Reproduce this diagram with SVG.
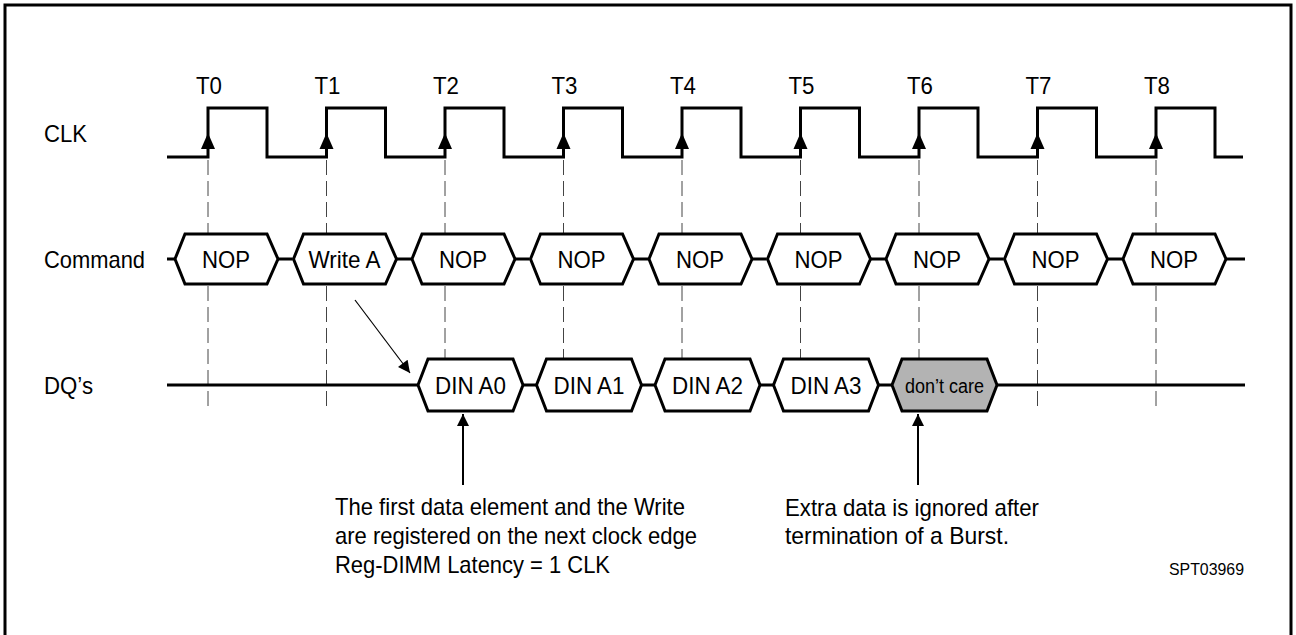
<svg xmlns="http://www.w3.org/2000/svg" width="1296" height="635" viewBox="0 0 1296 635">
<style>
text{font-family:"Liberation Sans",Arial,sans-serif;fill:#000;font-size:24px}
.tl{text-anchor:middle}
.hx{text-anchor:middle}
.sig{fill:none;stroke:#000;stroke-width:3}
.hex{fill:#fff;stroke:#000;stroke-width:3;stroke-linejoin:miter}
.dc{fill:#b3b3b3;stroke:#000;stroke-width:3}
.dash{stroke:#444;stroke-width:1;stroke-dasharray:15 6}
.ln{stroke:#000;stroke-width:1.2}
.vl{stroke:#000;stroke-width:2}
</style>
<defs>
<marker id="ah" viewBox="0 0 10 10" refX="10" refY="5" markerWidth="16" markerHeight="12" markerUnits="userSpaceOnUse" orient="auto"><path d="M0,0 L10,5 L0,10 Z" fill="#000"/></marker>
</defs>
<rect x="5" y="5" width="1286" height="645" fill="none" stroke="#000" stroke-width="3"/>

<g id="labels">
<text x="44" y="142" textLength="43" lengthAdjust="spacingAndGlyphs">CLK</text>
<text x="44" y="268" textLength="101" lengthAdjust="spacingAndGlyphs">Command</text>
<text x="44" y="394" textLength="49" lengthAdjust="spacingAndGlyphs">DQ’s</text>
<text class="tl" x="209" y="94" textLength="26" lengthAdjust="spacingAndGlyphs">T0</text>
<text class="tl" x="327.5" y="94" textLength="26" lengthAdjust="spacingAndGlyphs">T1</text>
<text class="tl" x="446" y="94" textLength="26" lengthAdjust="spacingAndGlyphs">T2</text>
<text class="tl" x="564.5" y="94" textLength="26" lengthAdjust="spacingAndGlyphs">T3</text>
<text class="tl" x="683" y="94" textLength="26" lengthAdjust="spacingAndGlyphs">T4</text>
<text class="tl" x="801.5" y="94" textLength="26" lengthAdjust="spacingAndGlyphs">T5</text>
<text class="tl" x="920" y="94" textLength="26" lengthAdjust="spacingAndGlyphs">T6</text>
<text class="tl" x="1038.5" y="94" textLength="26" lengthAdjust="spacingAndGlyphs">T7</text>
<text class="tl" x="1157" y="94" textLength="26" lengthAdjust="spacingAndGlyphs">T8</text>
</g>

<g id="gridlines">
<line class="dash" x1="208" y1="160" x2="208" y2="412"/>
<line class="dash" x1="326.5" y1="160" x2="326.5" y2="412"/>
<line class="dash" x1="445" y1="160" x2="445" y2="412"/>
<line class="dash" x1="563.5" y1="160" x2="563.5" y2="412"/>
<line class="dash" x1="682" y1="160" x2="682" y2="412"/>
<line class="dash" x1="800.5" y1="160" x2="800.5" y2="412"/>
<line class="dash" x1="919" y1="160" x2="919" y2="412"/>
<line class="dash" x1="1037.5" y1="160" x2="1037.5" y2="412"/>
<line class="dash" x1="1156" y1="160" x2="1156" y2="412"/>
</g>

<g id="clk">
<path class="sig" d="M167,157 H208 V108 H267 V157 H326.5 V108 H385.5 V157 H445 V108 H504 V157 H563.5 V108 H622.5 V157 H682 V108 H741 V157 H800.5 V108 H859.5 V157 H919 V108 H978 V157 H1037.5 V108 H1096.5 V157 H1156 V108 H1215 V157 H1243"/>
<polygon points="208,133 201,149 215,149"/>
<polygon points="326.5,133 319.5,149 333.5,149"/>
<polygon points="445,133 438,149 452,149"/>
<polygon points="563.5,133 556.5,149 570.5,149"/>
<polygon points="682,133 675,149 689,149"/>
<polygon points="800.5,133 793.5,149 807.5,149"/>
<polygon points="919,133 912,149 926,149"/>
<polygon points="1037.5,133 1030.5,149 1044.5,149"/>
<polygon points="1156,133 1149,149 1163,149"/>
</g>

<g id="command">
<path class="sig" d="M167,259 H175 M278,259 H292.5 M396.5,259 H411 M515,259 H529.5 M633.5,259 H648 M752,259 H766.5 M870.5,259 H885 M989,259 H1003.5 M1107.5,259 H1122 M1226,259 H1245"/>
<g id="cmd0"><polygon class="hex" points="175,259 185,234 267,234 278,259 267,284 185,284"/><text class="hx" x="226" y="268" textLength="48" lengthAdjust="spacingAndGlyphs">NOP</text></g>
<g id="cmd1"><polygon class="hex" points="293.5,259 303.5,234 385.5,234 396.5,259 385.5,284 303.5,284"/><text class="hx" x="344.5" y="268" textLength="72" lengthAdjust="spacingAndGlyphs">Write A</text></g>
<g id="cmd2"><polygon class="hex" points="412,259 422,234 504,234 515,259 504,284 422,284"/><text class="hx" x="463" y="268" textLength="48" lengthAdjust="spacingAndGlyphs">NOP</text></g>
<g id="cmd3"><polygon class="hex" points="530.5,259 540.5,234 622.5,234 633.5,259 622.5,284 540.5,284"/><text class="hx" x="581.5" y="268" textLength="48" lengthAdjust="spacingAndGlyphs">NOP</text></g>
<g id="cmd4"><polygon class="hex" points="649,259 659,234 741,234 752,259 741,284 659,284"/><text class="hx" x="700" y="268" textLength="48" lengthAdjust="spacingAndGlyphs">NOP</text></g>
<g id="cmd5"><polygon class="hex" points="767.5,259 777.5,234 859.5,234 870.5,259 859.5,284 777.5,284"/><text class="hx" x="818.5" y="268" textLength="48" lengthAdjust="spacingAndGlyphs">NOP</text></g>
<g id="cmd6"><polygon class="hex" points="886,259 896,234 978,234 989,259 978,284 896,284"/><text class="hx" x="937" y="268" textLength="48" lengthAdjust="spacingAndGlyphs">NOP</text></g>
<g id="cmd7"><polygon class="hex" points="1004.5,259 1014.5,234 1096.5,234 1107.5,259 1096.5,284 1014.5,284"/><text class="hx" x="1055.5" y="268" textLength="48" lengthAdjust="spacingAndGlyphs">NOP</text></g>
<g id="cmd8"><polygon class="hex" points="1123,259 1133,234 1215,234 1226,259 1215,284 1133,284"/><text class="hx" x="1174" y="268" textLength="48" lengthAdjust="spacingAndGlyphs">NOP</text></g>
</g>

<g id="dq">
<path class="sig" d="M167,385 H418 M523,385 H537.5 M641.5,385 H656 M760,385 H774.5 M878.5,385 H893 M997,385 H1245"/>
<g id="dq0"><polygon class="hex" points="418,385 428,359 513,359 523,385 513,411 428,411"/><text class="hx" x="470.5" y="394" textLength="71" lengthAdjust="spacingAndGlyphs">DIN A0</text></g>
<g id="dq1"><polygon class="hex" points="536.5,385 546.5,359 631.5,359 641.5,385 631.5,411 546.5,411"/><text class="hx" x="589" y="394" textLength="71" lengthAdjust="spacingAndGlyphs">DIN A1</text></g>
<g id="dq2"><polygon class="hex" points="655,385 665,359 750,359 760,385 750,411 665,411"/><text class="hx" x="707.5" y="394" textLength="71" lengthAdjust="spacingAndGlyphs">DIN A2</text></g>
<g id="dq3"><polygon class="hex" points="773.5,385 783.5,359 868.5,359 878.5,385 868.5,411 783.5,411"/><text class="hx" x="826" y="394" textLength="71" lengthAdjust="spacingAndGlyphs">DIN A3</text></g>
<g id="dq4"><polygon class="dc" points="892,385 902,359 987,359 997,385 987,411 902,411"/><text class="hx" x="944.5" y="393" style="font-size:20px" textLength="79" lengthAdjust="spacingAndGlyphs">don’t care</text></g>
</g>

<g id="connectors">
<line class="ln" x1="355" y1="300" x2="410" y2="373" marker-end="url(#ah)"/>
<line class="vl" x1="463" y1="485" x2="463" y2="414" marker-end="url(#ah)"/>
<line class="vl" x1="918" y1="485" x2="918" y2="414" marker-end="url(#ah)"/>
</g>

<g id="notes">
<text x="335" y="515" textLength="350" lengthAdjust="spacingAndGlyphs">The first data element and the Write</text>
<text x="335" y="544" textLength="362" lengthAdjust="spacingAndGlyphs">are registered on the next clock edge</text>
<text x="335" y="573" textLength="275" lengthAdjust="spacingAndGlyphs">Reg-DIMM Latency = 1 CLK</text>
<text x="785" y="516" textLength="254" lengthAdjust="spacingAndGlyphs">Extra data is ignored after</text>
<text x="785" y="544" textLength="224" lengthAdjust="spacingAndGlyphs">termination of a Burst.</text>
<text x="1169" y="575" style="font-size:17px" textLength="75" lengthAdjust="spacingAndGlyphs">SPT03969</text>
</g>
</svg>
